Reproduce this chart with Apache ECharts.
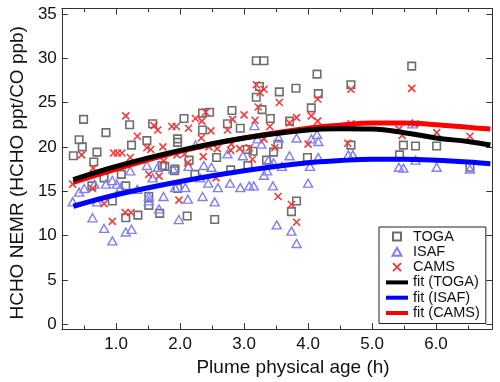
<!DOCTYPE html>
<html><head><meta charset="utf-8">
<script src="https://cdn.jsdelivr.net/npm/echarts@6/dist/echarts.min.js"></script>
<style>html,body{margin:0;padding:0;background:#fff}#c{width:500px;height:382px}</style>
</head><body><div id="c"></div>
<script>
// ---- data (plume physical age in h, HCHO NEMR in ppt/ppb) ----
const togaPoints = [[0.33,19.0],[0.42,20.8],[0.47,20.0],[0.49,23.1],[0.62,15.6],[0.65,18.3],[0.70,19.4],[0.81,16.5],[0.84,21.6],[0.94,13.9],[1.08,16.9],[1.15,15.6],[1.15,12.0],[1.21,22.5],[1.24,20.2],[1.34,12.3],[1.48,20.7],[1.51,14.4],[1.51,13.4],[1.57,22.6],[1.68,12.5],[1.72,17.9],[1.76,17.8],[1.91,17.3],[1.92,17.5],[1.96,20.9],[1.96,20.5],[1.96,15.3],[2.06,23.2],[2.11,12.2],[2.14,18.5],[2.23,16.9],[2.35,23.8],[2.35,21.9],[2.46,23.9],[2.54,11.8],[2.57,18.8],[2.74,22.6],[2.79,17.4],[2.81,24.1],[2.94,22.1],[3.05,19.7],[3.06,17.9],[3.14,19.5],[3.19,25.6],[3.19,29.7],[3.31,29.7],[3.24,26.8],[3.28,24.2],[3.35,18.5],[3.41,23.2],[3.46,19.4],[3.53,20.3],[3.55,26.2],[3.71,22.9],[3.74,12.7],[3.81,26.6],[3.82,13.9],[3.99,18.8],[4.05,24.4],[4.14,28.2],[4.16,26.0],[4.67,27.0],[4.67,20.2],[5.43,19.1],[5.49,20.2],[5.62,29.1],[5.68,20.1],[6.01,20.1],[6.53,17.7]];
const isafPoints = [[0.32,13.8],[0.42,14.9],[0.50,15.3],[0.63,12.0],[0.66,15.8],[0.70,13.8],[0.81,10.8],[0.84,15.8],[0.94,16.2],[0.94,9.4],[1.01,15.8],[1.07,15.4],[1.15,10.4],[1.22,17.3],[1.24,10.7],[1.33,15.2],[1.48,17.9],[1.51,14.4],[1.51,13.9],[1.57,16.5],[1.65,17.7],[1.67,13.0],[1.74,14.4],[1.89,17.5],[1.92,15.4],[1.98,11.8],[2.08,15.4],[2.12,14.1],[2.13,17.8],[2.24,20.2],[2.31,16.5],[2.35,14.4],[2.37,17.9],[2.44,15.9],[2.49,17.7],[2.54,13.8],[2.59,15.4],[2.74,19.2],[2.78,15.9],[2.94,15.4],[2.98,19.0],[3.08,15.6],[3.15,15.6],[3.16,22.4],[3.21,20.9],[3.27,20.3],[3.31,16.8],[3.36,17.3],[3.38,18.5],[3.45,15.6],[3.46,18.2],[3.51,11.2],[3.54,21.0],[3.59,17.8],[3.71,19.0],[3.74,10.5],[3.82,21.0],[3.82,9.1],[4.00,15.9],[4.03,17.8],[4.05,20.9],[4.14,21.4],[4.16,20.6],[4.16,18.8],[4.63,19.1],[4.70,19.1],[5.42,17.7],[5.49,17.6],[5.63,22.6],[5.68,18.5],[6.01,17.7],[6.53,17.5]];
const camsPoints = [[0.32,15.8],[0.46,19.1],[0.63,15.3],[0.64,17.6],[0.81,13.6],[0.94,11.6],[0.96,19.3],[1.02,19.3],[1.09,19.3],[1.14,12.6],[1.15,23.5],[1.22,18.8],[1.23,12.6],[1.33,21.2],[1.48,19.9],[1.51,16.9],[1.54,19.7],[1.59,22.4],[1.65,21.9],[1.67,16.7],[1.73,20.0],[1.74,18.4],[1.87,22.3],[1.94,22.3],[1.95,19.1],[1.98,14.0],[2.07,19.2],[2.12,18.2],[2.13,22.1],[2.24,23.2],[2.34,22.9],[2.33,21.0],[2.36,18.9],[2.40,23.9],[2.45,20.0],[2.48,21.8],[2.56,16.5],[2.58,19.8],[2.74,21.9],[2.79,19.6],[2.80,20.3],[2.82,23.1],[2.93,19.8],[3.00,23.6],[3.08,19.9],[3.13,18.6],[3.17,23.0],[3.19,27.0],[3.22,24.5],[3.25,26.1],[3.31,26.5],[3.31,20.9],[3.40,22.3],[3.48,19.9],[3.53,14.4],[3.55,25.0],[3.71,22.7],[3.74,13.5],[3.82,23.3],[3.82,11.5],[4.00,20.3],[4.05,23.5],[4.15,25.4],[4.15,22.9],[4.62,20.4],[4.67,26.5],[4.67,22.6],[5.42,22.0],[5.47,21.3],[5.62,26.6],[5.67,22.6],[6.01,21.6],[6.53,21.2]];
const fitAge  = [0.33, 1.0, 2.0, 3.0, 4.0, 4.5, 5.0, 5.5, 6.0, 6.5, 6.85];
const fitToga = [16.3, 17.8, 19.6, 21.0, 21.9, 22.05, 22.0, 21.6, 21.0, 20.6, 20.2];
const fitIsaf = [13.3, 14.6, 16.1, 17.3, 18.2, 18.45, 18.6, 18.6, 18.5, 18.3, 18.1];
const fitCams = [16.0, 17.5, 19.5, 21.0, 22.1, 22.45, 22.7, 22.7, 22.5, 22.2, 22.0];
const xMajorTicks = [1, 2, 3, 4, 5, 6];
const xMinorTicks = [0.5, 1.5, 2.5, 3.5, 4.5, 5.5, 6.5];
const yTicks = [0, 5, 10, 15, 20, 25, 30, 35];

// ---- chart ----
const FONT = 'Liberation Sans, Arial, sans-serif';
const X_MIN = 0.15, X_MAX = 6.88, Y_MIN = -0.55, Y_MAX = 35.6;
const frame = { color: '#333', width: 1 };
const zip = (xs, ys) => xs.map((x, i) => [x, ys[i]]);
const SQUARE = 'path://M0,0H10V10H0Z';
const TRIANGLE = 'path://M5,0L10,9L0,9Z';
const CROSS = 'path://M0,0L10,10M10,0L0,10';

function xAx(pos, ticks, len, withLine, withLabel) {
  const a = {
    type: 'value', position: pos, min: X_MIN, max: X_MAX,
    axisLine: { show: withLine, onZero: false, lineStyle: frame },
    axisTick: { show: true, inside: true, length: len, customValues: ticks, lineStyle: frame },
    axisLabel: { show: withLabel, customValues: ticks, formatter: v => v.toFixed(1),
                 fontSize: 17, color: '#111', margin: 7, fontFamily: FONT },
    splitLine: { show: false }
  };
  if (withLabel) {
    a.name = 'Plume physical age (h)';
    a.nameLocation = 'middle';
    a.nameGap = 21;
    a.nameTextStyle = { fontSize: 19, color: '#111', fontFamily: FONT, padding: [0, 0, 0, 32] };
  }
  return a;
}
function yAx(pos, withLabel) {
  const a = {
    type: 'value', position: pos, min: Y_MIN, max: Y_MAX,
    axisLine: { show: true, onZero: false, lineStyle: frame },
    axisTick: { show: true, inside: true, length: 6, customValues: yTicks, lineStyle: frame },
    axisLabel: { show: withLabel, customValues: yTicks, fontSize: 17, color: '#111', margin: 5, fontFamily: FONT },
    splitLine: { show: false }
  };
  if (withLabel) {
    a.name = 'HCHO NEMR (HCHO ppt/CO ppb)';
    a.nameLocation = 'middle';
    a.nameGap = 34;
    a.nameTextStyle = { fontSize: 19, color: '#111', fontFamily: FONT, padding: [0, 8, 0, 0] };
  }
  return a;
}
const hideSymbol = { color: 'rgba(0,0,0,0)', borderWidth: 0, opacity: 0 };

const chart = echarts.init(document.getElementById('c'), null, { renderer: 'canvas' });
chart.setOption({
  animation: false,
  backgroundColor: '#fff',
  grid: { left: 57.5, right: 7.7, top: 8.5, bottom: 51.3, containLabel: false },
  xAxis: [
    xAx('bottom', xMajorTicks, 6, true, true),
    xAx('top', xMajorTicks, 6, true, false),
    xAx('bottom', xMinorTicks, 3.5, false, false),
    xAx('top', xMinorTicks, 3.5, false, false)
  ],
  yAxis: [yAx('left', true), yAx('right', false)],
  legend: {
    orient: 'vertical', left: 379, top: 227,
    backgroundColor: '#fff', borderColor: '#222', borderWidth: 1, borderRadius: 0,
    padding: [2, 6, 3, 5], itemWidth: 22, itemHeight: 8, itemGap: 0.3,
    symbolKeepAspect: true,
    textStyle: { fontSize: 14.5, color: '#111', fontFamily: FONT, lineHeight: 15 },
    data: [
      { name: 'TOGA', icon: SQUARE },
      { name: 'ISAF', icon: TRIANGLE },
      { name: 'CAMS', icon: CROSS },
      { name: 'fit (TOGA)', itemStyle: hideSymbol, lineStyle: { width: 4 } },
      { name: 'fit (ISAF)', itemStyle: hideSymbol, lineStyle: { width: 4 } },
      { name: 'fit (CAMS)', itemStyle: hideSymbol, lineStyle: { width: 4 } }
    ]
  },
  series: [
    { name: 'TOGA', type: 'scatter', data: togaPoints, symbol: SQUARE, symbolSize: 7.5, z: 2,
      itemStyle: { color: 'rgba(0,0,0,0)', borderColor: '#6e6e6e', borderWidth: 1.6, opacity: 1 } },
    { name: 'ISAF', type: 'scatter', data: isafPoints, symbol: TRIANGLE, symbolSize: [9, 8], z: 3,
      itemStyle: { color: 'rgba(0,0,0,0)', borderColor: '#7f7ff5', borderWidth: 1.4, opacity: 1 } },
    { name: 'CAMS', type: 'scatter', data: camsPoints, symbol: CROSS, symbolSize: 7, z: 4,
      itemStyle: { color: 'rgba(0,0,0,0)', borderColor: '#f43a3a', borderWidth: 1.6, opacity: 1 } },
    { name: 'fit (TOGA)', type: 'line', data: zip(fitAge, fitToga), smooth: 0.4, symbol: 'none', z: 7,
      lineStyle: { color: '#000', width: 5 }, itemStyle: { color: '#000' } },
    { name: 'fit (ISAF)', type: 'line', data: zip(fitAge, fitIsaf), smooth: 0.4, symbol: 'none', z: 6,
      lineStyle: { color: '#0000ff', width: 5 }, itemStyle: { color: '#0000ff' } },
    { name: 'fit (CAMS)', type: 'line', data: zip(fitAge, fitCams), smooth: 0.4, symbol: 'none', z: 5,
      lineStyle: { color: '#ff0000', width: 5 }, itemStyle: { color: '#ff0000' } }
  ]
});
</script></body></html>
